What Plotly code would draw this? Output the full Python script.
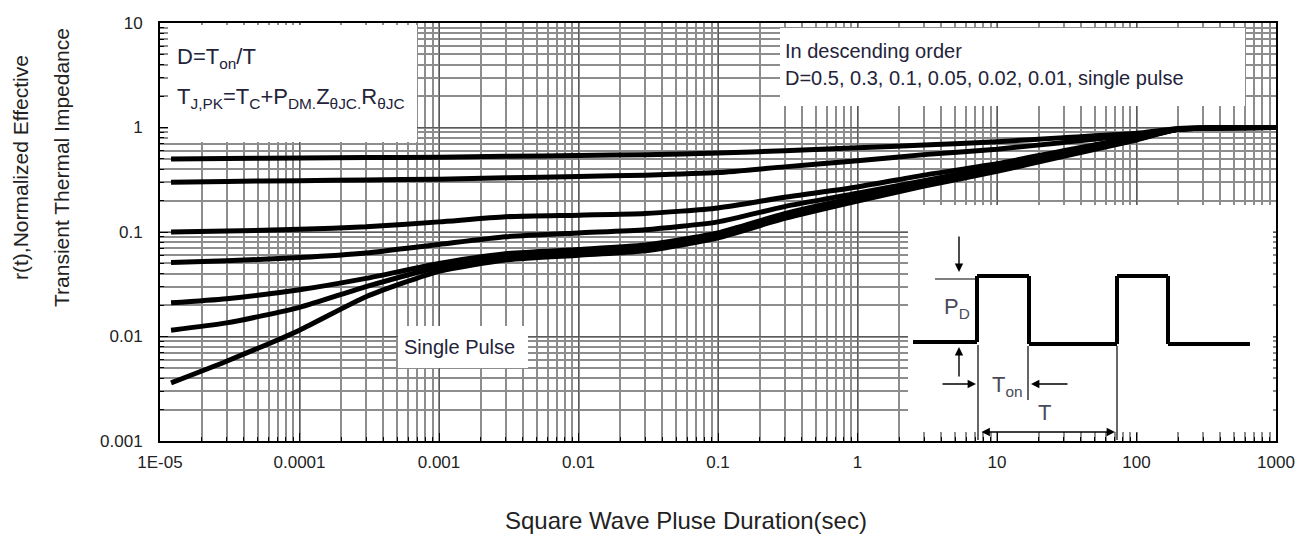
import plotly.graph_objects as go

# ---------------- data ----------------
t = [1.2e-5, 3e-5, 1e-4, 3e-4, 1e-3, 3e-3, 1e-2, 3e-2, 1e-1, 3e-1, 1, 3, 10, 30, 100, 200, 1000]
d_050 = [0.50, 0.505, 0.51, 0.515, 0.52, 0.53, 0.54, 0.55, 0.57, 0.60, 0.64, 0.68, 0.73, 0.80, 0.88, 0.98, 1.0]
d_030 = [0.30, 0.305, 0.31, 0.315, 0.32, 0.33, 0.34, 0.35, 0.37, 0.42, 0.48, 0.55, 0.62, 0.72, 0.85, 0.97, 1.0]
d_010 = [0.100, 0.102, 0.106, 0.112, 0.125, 0.140, 0.145, 0.150, 0.170, 0.215, 0.27, 0.35, 0.45, 0.60, 0.81, 0.96, 1.0]
d_005 = [0.051, 0.053, 0.057, 0.063, 0.076, 0.090, 0.098, 0.105, 0.125, 0.175, 0.235, 0.31, 0.42, 0.57, 0.79, 0.96, 1.0]
d_002 = [0.021, 0.023, 0.028, 0.036, 0.050, 0.062, 0.068, 0.075, 0.098, 0.150, 0.215, 0.29, 0.40, 0.55, 0.78, 0.96, 1.0]
d_001 = [0.0115, 0.0135, 0.019, 0.030, 0.046, 0.058, 0.064, 0.070, 0.093, 0.143, 0.205, 0.28, 0.39, 0.54, 0.77, 0.96, 1.0]
single = [0.0036, 0.0058, 0.0115, 0.024, 0.042, 0.054, 0.060, 0.066, 0.088, 0.135, 0.198, 0.275, 0.38, 0.53, 0.76, 0.96, 1.0]
series = [d_050, d_030, d_010, d_005, d_002, d_001, single]
names = ["D=0.5", "D=0.3", "D=0.1", "D=0.05", "D=0.02", "D=0.01", "Single pulse"]

x_tickvals = [1e-5, 1e-4, 1e-3, 1e-2, 1e-1, 1, 10, 100, 1000]
x_ticktext = ["1E-05", "0.0001", "0.001", "0.01", "0.1", "1", "10", "100", "1000"]
y_tickvals = [0.001, 0.01, 0.1, 1, 10]
y_ticktext = ["0.001", "0.01", "0.1", "1", "10"]

# ---------------- layout geometry (page pixels) ----------------
PAGE_W, PAGE_H = 1315, 543
OFF = 8  # default body margin of the html page
W, H = PAGE_W - OFF, PAGE_H - OFF
L, R, T, B = 160, 1276, 23, 441


def px(x):
    return (x - L) / (R - L)


def py(y):
    return (B - y) / (B - T)


TXT = "#23233a"
ARIAL = "Liberation Sans, Arial, sans-serif"

fig = go.Figure()
for s, n in zip(series, names):
    fig.add_trace(go.Scatter(x=t, y=s, mode="lines", name=n,
                             line=dict(color="black", width=5, shape="spline", smoothing=0.6)))

shapes = []
# white boxes covering the grid (the curves never pass through them)
for x0, y0, x1, y1 in [(168, 25, 417, 142), (780, 28, 1245, 106), (398, 326, 528, 368), (908, 205, 1273, 432)]:
    shapes.append(dict(type="rect", xref="paper", yref="paper", x0=px(x0), x1=px(x1), y0=py(y1), y1=py(y0),
                       fillcolor="white", line=dict(width=0), layer="above"))


def seg(x0, y0, x1, y1, w):
    shapes.append(dict(type="line", xref="paper", yref="paper", x0=px(x0), y0=py(y0), x1=px(x1), y1=py(y1),
                       line=dict(color="black", width=w), layer="above"))


# pulse waveform
wave = [(913, 342), (977, 342), (977, 276), (1029, 276), (1029, 344), (1117, 344), (1117, 276),
        (1168, 276), (1168, 344), (1250, 344)]
for (a, b), (c, d) in zip(wave[:-1], wave[1:]):
    seg(a, b, c, d, 4)
# thin guide lines
seg(935, 279, 975, 279, 1.2)
seg(978, 345, 978, 440, 1.2)
seg(1028, 346, 1028, 400, 1.2)
seg(1117, 346, 1117, 440, 1.2)

ann = []


def arrow(hx, hy, tx, ty, both=False):
    d = dict(x=px(hx), y=py(hy), xref="paper", yref="paper", ax=tx - hx, ay=ty - hy,
             showarrow=True, arrowhead=2, arrowsize=1.2, arrowwidth=1.4, arrowcolor="black", text="")
    if both:
        d["arrowside"] = "end+start"
        d["startarrowhead"] = 2
        d["startarrowsize"] = 1.2
    ann.append(d)


arrow(959, 272, 959, 235)
arrow(959, 347, 959, 378)
arrow(976, 384, 941, 384)
arrow(1031, 384, 1069, 384)
arrow(1115, 432, 980, 432, both=True)


def label(x, y, text, size, xanchor="left", color=TXT, angle=0):
    ann.append(dict(x=px(x), y=py(y), xref="paper", yref="paper", text=text, showarrow=False,
                    xanchor=xanchor, yanchor="middle", textangle=angle,
                    font=dict(family=ARIAL, size=size, color=color)))


label(175, 58, "D=T<sub>on</sub>/T", 22)
label(175, 98, "T<sub>J,PK</sub>=T<sub>C</sub>+P<sub>DM.</sub>Z<sub>θJC.</sub>R<sub>θJC</sub>", 22)
label(783, 51, "In descending order", 20)
label(783, 78, "D=0.5, 0.3, 0.1, 0.05, 0.02, 0.01, single pulse", 20)
label(402, 347, "Single Pulse", 20)
label(942, 308, "P<sub>D</sub>", 22, color="#4a4a5a")
label(990, 386, "T<sub>on</sub>", 22, color="#4a4a5a")
label(1036, 412, "T", 22, color="#4a4a5a")

# axis titles
label(20, 168, "r(t),Normalized Effective", 21, xanchor="center", color="#222", angle=-90)
label(61, 168, "Transient Thermal Impedance", 21, xanchor="center", color="#222", angle=-90)
label(686, 520, "Square Wave Pluse Duration(sec)", 24, xanchor="center", color="#222")

grid_minor = dict(dtick="D1", showgrid=True, gridcolor="#8d8d8d", gridwidth=2, ticks="inside",
                  ticklen=4, tickcolor="black", tickwidth=1)

fig.update_layout(
    width=W, height=H, autosize=False,
    margin=dict(l=L - OFF, r=PAGE_W - R, t=T - OFF, b=PAGE_H - B, autoexpand=False),
    paper_bgcolor="white", plot_bgcolor="white",
    showlegend=False,
    shapes=shapes, annotations=ann,
    xaxis=dict(type="log", range=[-5, 3], tickvals=x_tickvals, ticktext=x_ticktext,
               showgrid=True, gridcolor="#5a5a5a", gridwidth=1, automargin=False,
               ticks="inside", ticklen=8, tickcolor="black",
               showline=True, linecolor="black", linewidth=2, mirror=True,
               tickfont=dict(family=ARIAL, size=17, color="#222"), ticklabelstandoff=5,
               minor=grid_minor),
    yaxis=dict(type="log", range=[-3, 1], tickvals=y_tickvals, ticktext=y_ticktext,
               showgrid=True, gridcolor="#5a5a5a", gridwidth=1, automargin=False,
               ticks="inside", ticklen=8, tickcolor="black",
               showline=True, linecolor="black", linewidth=2, mirror=True,
               tickfont=dict(family=ARIAL, size=17, color="#222"), ticklabelstandoff=12,
               minor=grid_minor),
)

fig.write_html("out.html")
